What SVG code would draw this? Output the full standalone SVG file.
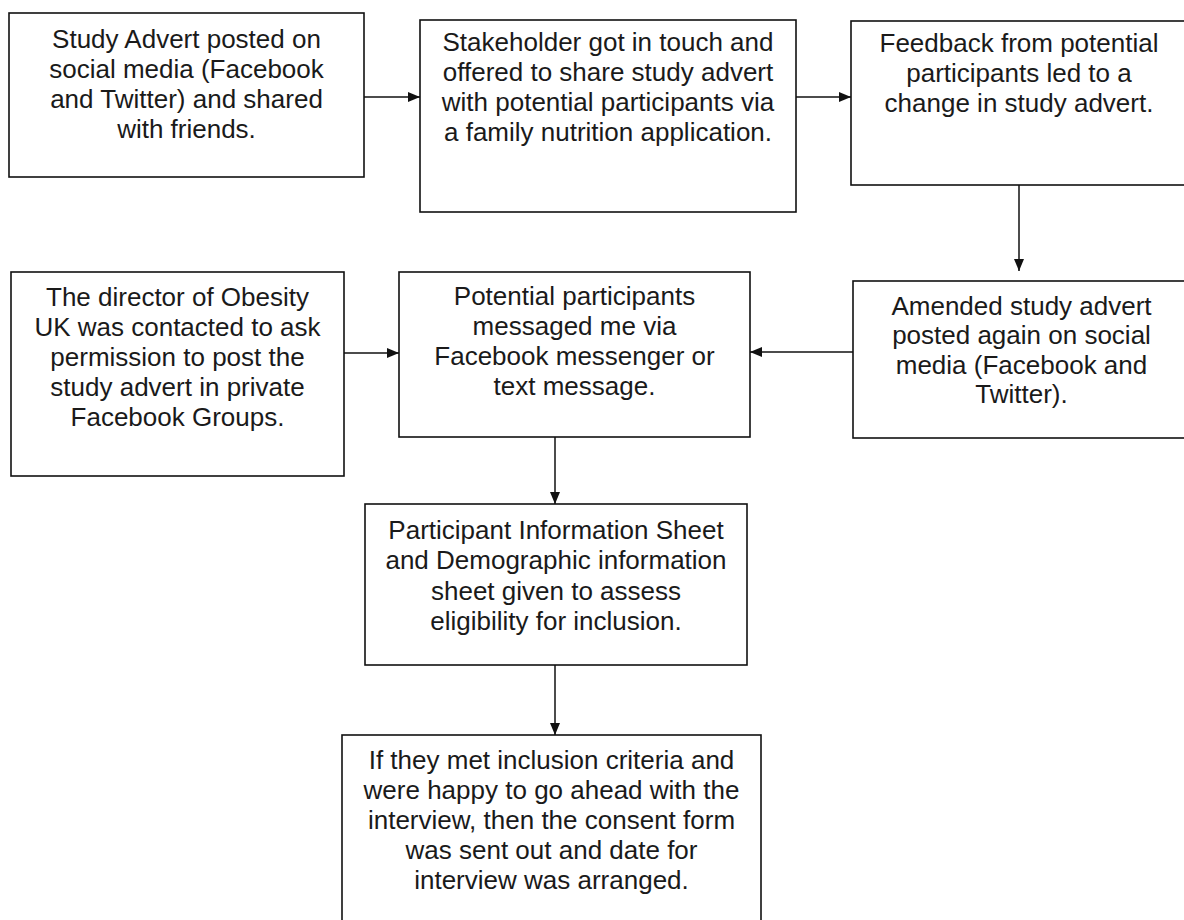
<svg xmlns="http://www.w3.org/2000/svg" width="1184" height="920" viewBox="0 0 1184 920">
  <style>
    .box { fill: #fff; stroke: #111; stroke-width: 1.6; }
    .lbl { font-family: "Liberation Sans", Arial, sans-serif; font-size: 26px; fill: #1a1a1a; text-anchor: middle; }
    .edge { fill: none; stroke: #111; stroke-width: 1.5; }
  </style>
  <defs>
    <marker id="arrow" viewBox="0 0 12 12" refX="12" refY="6" markerWidth="12" markerHeight="12" markerUnits="userSpaceOnUse" orient="auto">
      <path d="M0,1 L12,6 L0,11 Z" fill="#111"/>
    </marker>
  </defs>
  <rect width="1184" height="920" fill="#fff"/>

  <!-- connectors -->
  <g id="connectors">
    <line class="edge" x1="364" y1="97" x2="420" y2="97" marker-end="url(#arrow)"/>
    <line class="edge" x1="796" y1="97" x2="851" y2="97" marker-end="url(#arrow)"/>
    <line class="edge" x1="1019" y1="185" x2="1019" y2="271" marker-end="url(#arrow)"/>
    <line class="edge" x1="344" y1="353" x2="399" y2="353" marker-end="url(#arrow)"/>
    <line class="edge" x1="853" y1="352" x2="750" y2="352" marker-end="url(#arrow)"/>
    <line class="edge" x1="555" y1="437" x2="555" y2="504" marker-end="url(#arrow)"/>
    <line class="edge" x1="555" y1="665" x2="555" y2="735" marker-end="url(#arrow)"/>
  </g>

  <!-- step 1 -->
  <g id="advert-posted">
    <rect class="box" x="9" y="13" width="355" height="164"/>
    <text class="lbl" x="186.5" y="48">Study Advert posted on</text>
    <text class="lbl" x="186.5" y="78">social media (Facebook</text>
    <text class="lbl" x="186.5" y="108">and Twitter) and shared</text>
    <text class="lbl" x="186.5" y="138">with friends.</text>
  </g>

  <!-- step 2 -->
  <g id="stakeholder">
    <rect class="box" x="420" y="20" width="376" height="192"/>
    <text class="lbl" x="608" y="51">Stakeholder got in touch and</text>
    <text class="lbl" x="608" y="81">offered to share study advert</text>
    <text class="lbl" x="608" y="111">with potential participants via</text>
    <text class="lbl" x="608" y="141">a family nutrition application.</text>
  </g>

  <!-- step 3 -->
  <g id="feedback">
    <rect class="box" x="851" y="21" width="336" height="164"/>
    <text class="lbl" x="1019" y="52">Feedback from potential</text>
    <text class="lbl" x="1019" y="82">participants led to a</text>
    <text class="lbl" x="1019" y="112">change in study advert.</text>
  </g>

  <!-- step 4 -->
  <g id="amended-advert">
    <rect class="box" x="853" y="281" width="337" height="157"/>
    <text class="lbl" x="1021.5" y="315">Amended study advert</text>
    <text class="lbl" x="1021.5" y="344">posted again on social</text>
    <text class="lbl" x="1021.5" y="374">media (Facebook and</text>
    <text class="lbl" x="1021.5" y="403">Twitter).</text>
  </g>

  <!-- parallel route -->
  <g id="obesity-uk">
    <rect class="box" x="11" y="272" width="333" height="204"/>
    <text class="lbl" x="177.5" y="306">The director of Obesity</text>
    <text class="lbl" x="177.5" y="336">UK was contacted to ask</text>
    <text class="lbl" x="177.5" y="366">permission to post the</text>
    <text class="lbl" x="177.5" y="396">study advert in private</text>
    <text class="lbl" x="177.5" y="426">Facebook Groups.</text>
  </g>

  <!-- step 5 -->
  <g id="participants-messaged">
    <rect class="box" x="399" y="272" width="351" height="165"/>
    <text class="lbl" x="574.5" y="305">Potential participants</text>
    <text class="lbl" x="574.5" y="335">messaged me via</text>
    <text class="lbl" x="574.5" y="365">Facebook messenger or</text>
    <text class="lbl" x="574.5" y="395">text message.</text>
  </g>

  <!-- step 6 -->
  <g id="information-sheet">
    <rect class="box" x="365" y="504" width="382" height="161"/>
    <text class="lbl" x="556" y="539">Participant Information Sheet</text>
    <text class="lbl" x="556" y="569">and Demographic information</text>
    <text class="lbl" x="556" y="600">sheet given to assess</text>
    <text class="lbl" x="556" y="630">eligibility for inclusion.</text>
  </g>

  <!-- step 7 -->
  <g id="consent-interview">
    <rect class="box" x="342" y="735" width="419" height="195"/>
    <text class="lbl" x="551.5" y="769">If they met inclusion criteria and</text>
    <text class="lbl" x="551.5" y="799">were happy to go ahead with the</text>
    <text class="lbl" x="551.5" y="829">interview, then the consent form</text>
    <text class="lbl" x="551.5" y="859">was sent out and date for</text>
    <text class="lbl" x="551.5" y="889">interview was arranged.</text>
  </g>
</svg>
